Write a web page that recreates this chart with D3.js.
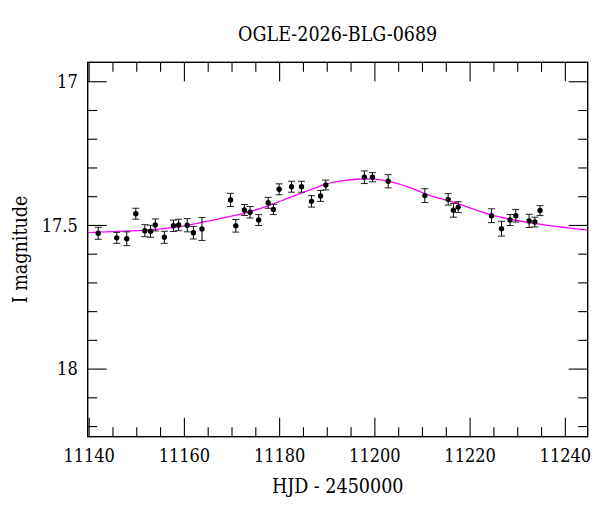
<!DOCTYPE html>
<html>
<head>
<meta charset="utf-8">
<script src="https://cdn.jsdelivr.net/npm/d3@7"></script>
<style>
  html, body { margin: 0; padding: 0; background: #fff; }
  svg { display: block; }
  text { font-family: "DejaVu Serif Condensed", "DejaVu Serif", serif; font-stretch: condensed; fill: #000; }
</style>
</head>
<body>
<svg id="chart" width="600" height="512"></svg>
<script>
// ---- data ----
const title = "OGLE-2026-BLG-0689";
const xLabel = "HJD - 2450000";
const yLabel = "I magnitude";

const hjd = [11142.0, 11145.9, 11148.0, 11149.9, 11151.8, 11153.0, 11154.0, 11155.9, 11157.8, 11158.9,
             11160.7, 11162.0, 11163.8, 11169.8, 11170.9, 11172.7, 11173.9, 11175.7, 11177.7, 11178.8,
             11180.0, 11182.6, 11184.7, 11186.8, 11188.7, 11189.8, 11197.9, 11199.6, 11202.9, 11210.6,
             11215.5, 11216.6, 11217.6, 11224.6, 11226.7, 11228.5, 11229.7, 11232.5, 11233.7, 11234.8];
const mag = [17.529, 17.545, 17.548, 17.461, 17.520, 17.522, 17.500, 17.543, 17.503, 17.500,
             17.501, 17.527, 17.514, 17.413, 17.503, 17.448, 17.456, 17.483, 17.423, 17.446,
             17.376, 17.367, 17.367, 17.418, 17.399, 17.361, 17.334, 17.334, 17.348, 17.398,
             17.411, 17.449, 17.438, 17.468, 17.513, 17.483, 17.468, 17.486, 17.490, 17.450];
const magErr = [0.021, 0.019, 0.024, 0.019, 0.021, 0.021, 0.021, 0.021, 0.020, 0.020,
                0.023, 0.022, 0.040, 0.023, 0.022, 0.019, 0.020, 0.019, 0.019, 0.018,
                0.019, 0.019, 0.019, 0.020, 0.019, 0.017, 0.022, 0.016, 0.023, 0.024,
                0.020, 0.024, 0.019, 0.024, 0.026, 0.019, 0.022, 0.023, 0.017, 0.017];

// model curve
const modelHjd = [11139.8, 11145.2, 11152.2, 11159.2, 11166.1, 11173.9, 11178.1, 11182.3, 11186.5, 11190.0,
                  11193.5, 11196.3, 11199.1, 11201.9, 11204.7, 11207.5, 11210.3, 11213.1, 11215.9, 11224.5,
                  11233.3, 11244.8];
const modelMag = [17.527, 17.523, 17.518, 17.506, 17.483, 17.454, 17.431, 17.404, 17.378, 17.357,
                  17.346, 17.341, 17.340, 17.345, 17.355, 17.370, 17.389, 17.405, 17.417, 17.465,
                  17.494, 17.518];

const xDomain = [11139.8, 11244.8];
const yDomain = [16.934, 18.237];   // magnitudes: bright at top
const xMajor = [11140, 11160, 11180, 11200, 11220, 11240];
const yMajor = [17, 17.5, 18];

// ---- layout ----
const svg = d3.select("#chart");
const L = 87.7, R = 587.7, T = 62.3, B = 436.7;
const x = d3.scaleLinear().domain(xDomain).range([L, R]);
const y = d3.scaleLinear().domain(yDomain).range([T, B]);

const xMinor = d3.range(11140, 11245, 5).filter(v => !xMajor.includes(v));
const yMinor = d3.range(17.0, 18.25, 0.1).map(v => +v.toFixed(1)).filter(v => v >= yDomain[0] && v <= yDomain[1] && !yMajor.includes(v));

const MAJ = 19, MIN = 9.5;

// clip for the plot area
svg.append("defs").append("clipPath").attr("id", "clip")
  .append("rect").attr("x", L).attr("y", T).attr("width", R - L).attr("height", B - T);

// axes with inward ticks on all four sides
function addAxis(axisGen, transform) {
  const g = svg.append("g").attr("transform", transform).call(axisGen);
  g.select(".domain").remove();
  g.selectAll("line").attr("stroke", "#000").attr("stroke-width", 1.1);
  return g;
}
const fmtX = d3.format("d");
// bottom
addAxis(d3.axisBottom(x).tickValues(xMajor).tickSize(-MAJ).tickFormat(fmtX).tickPadding(12), `translate(0,${B})`)
  .selectAll("text").attr("font-size", 18).attr("dy", "0.72em");
addAxis(d3.axisBottom(x).tickValues(xMinor).tickSize(-MIN).tickFormat(""), `translate(0,${B})`);
// top
addAxis(d3.axisTop(x).tickValues(xMajor).tickSize(-MAJ).tickFormat(""), `translate(0,${T})`);
addAxis(d3.axisTop(x).tickValues(xMinor).tickSize(-MIN).tickFormat(""), `translate(0,${T})`);
// left
addAxis(d3.axisLeft(y).tickValues(yMajor).tickSize(-MAJ).tickFormat(d => d3.format("")(d)).tickPadding(10), `translate(${L},0)`)
  .selectAll("text").attr("font-size", 18).attr("dy", "0.35em");
addAxis(d3.axisLeft(y).tickValues(yMinor).tickSize(-MIN).tickFormat(""), `translate(${L},0)`);
// right
addAxis(d3.axisRight(y).tickValues(yMajor).tickSize(-MAJ).tickFormat(""), `translate(${R},0)`);
addAxis(d3.axisRight(y).tickValues(yMinor).tickSize(-MIN).tickFormat(""), `translate(${R},0)`);

// frame
svg.append("rect").attr("x", L).attr("y", T).attr("width", R - L).attr("height", B - T)
  .attr("fill", "none").attr("stroke", "#000").attr("stroke-width", 1.4);

// model curve
const model = modelHjd.map((d, i) => [d, modelMag[i]]);
svg.append("path")
  .attr("clip-path", "url(#clip)")
  .attr("d", d3.line().x(d => x(d[0])).y(d => y(d[1])).curve(d3.curveMonotoneX)(model))
  .attr("fill", "none").attr("stroke", "#ff00ff").attr("stroke-width", 1.3);

// data points with error bars
const pts = hjd.map((d, i) => ({ t: d, m: mag[i], e: magErr[i] }));
const g = svg.append("g").attr("clip-path", "url(#clip)");
const cap = 3.5;
const pg = g.selectAll("g.pt").data(pts).join("g").attr("class", "pt");
pg.append("line").attr("x1", d => x(d.t)).attr("x2", d => x(d.t))
  .attr("y1", d => y(d.m - d.e)).attr("y2", d => y(d.m + d.e))
  .attr("stroke", "#000").attr("stroke-width", 1);
pg.append("line").attr("x1", d => x(d.t) - cap).attr("x2", d => x(d.t) + cap)
  .attr("y1", d => y(d.m - d.e)).attr("y2", d => y(d.m - d.e))
  .attr("stroke", "#222").attr("stroke-width", 1);
pg.append("line").attr("x1", d => x(d.t) - cap).attr("x2", d => x(d.t) + cap)
  .attr("y1", d => y(d.m + d.e)).attr("y2", d => y(d.m + d.e))
  .attr("stroke", "#222").attr("stroke-width", 1);
pg.append("circle").attr("cx", d => x(d.t)).attr("cy", d => y(d.m)).attr("r", 2.7).attr("fill", "#000");

// titles
svg.append("text").attr("x", (L + R) / 2).attr("y", 41).attr("text-anchor", "middle")
  .attr("font-size", 19.5).text(title);
svg.append("text").attr("x", (L + R) / 2).attr("y", 493).attr("text-anchor", "middle")
  .attr("font-size", 19.5).text(xLabel);
svg.append("text").attr("transform", `translate(27,${(T + B) / 2}) rotate(-90)`).attr("text-anchor", "middle")
  .attr("font-size", 19.5).text(yLabel);
</script>
</body>
</html>
